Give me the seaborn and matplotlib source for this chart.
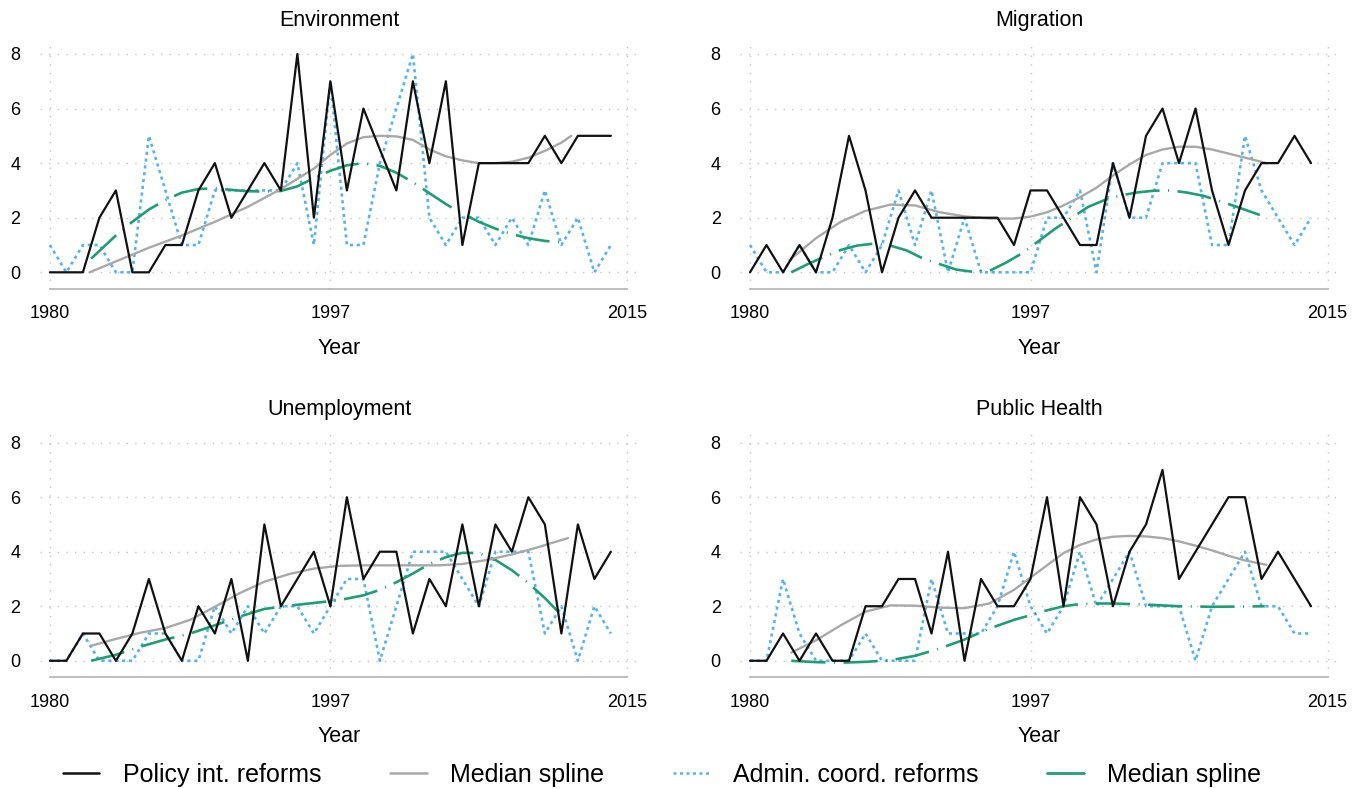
import matplotlib
matplotlib.use("Agg")
import matplotlib.pyplot as plt
from matplotlib.lines import Line2D
import pandas as pd
import seaborn as sns

sns.set_style("white")
plt.rcParams['font.family'] = ['Liberation Sans', 'DejaVu Sans']
plt.rcParams['text.color'] = 'black'
plt.rcParams['xtick.labelcolor'] = 'black'
plt.rcParams['ytick.labelcolor'] = 'black'
plt.rcParams['axes.labelcolor'] = 'black'

years = list(range(1980, 2015))

# --- yearly counts ---
env_policy = [0, 0, 0, 2, 3, 0, 0, 1, 1, 3,
              4, 2, 3, 4, 3, 8, 2, 7, 3, 6,
              4.5, 3, 7, 4, 7, 1, 4, 4, 4, 4,
              5, 4, 5, 5, 5]
env_admin = [1, 0, 1, 1, 0, 0, 5, 3, 1, 1,
             3, 3, 3, 3, 3, 4, 1, 7, 1, 1,
             4, 6, 8, 2, 1, 2, 2, 1, 2, 1,
             3, 1, 2, 0, 1]

mig_policy = [0, 1, 0, 1, 0, 2, 5, 3, 0, 2,
              3, 2, 2, 2, 2, 2, 1, 3, 3, 2,
              1, 1, 4, 2, 5, 6, 4, 6, 3, 1,
              3, 4, 4, 5, 4]
mig_admin = [1, 0, 0, 1, 0, 0, 1, 0, 1, 3,
             1, 3, 0, 2, 0, 0, 0, 0, 2, 2,
             3, 0, 4, 2, 2, 4, 4, 4, 1, 1,
             5, 3, 2, 1, 2]

unemp_policy = [0, 0, 1, 1, 0, 1, 3, 1, 0, 2,
                1, 3, 0, 5, 2, 3, 4, 2, 6, 3,
                4, 4, 1, 3, 2, 5, 2, 5, 4, 6,
                5, 1, 5, 3, 4]
unemp_admin = [0, 0, 1, 0, 0, 0, 1, 1, 0, 0,
               2, 1, 2, 1, 2, 2, 1, 2, 3, 3,
               0, 2, 4, 4, 4, 3, 2, 4, 4, 4,
               1, 2, 0, 2, 1]

ph_policy = [0, 0, 1, 0, 1, 0, 0, 2, 2, 3,
             3, 1, 4, 0, 3, 2, 2, 3, 6, 2,
             6, 5, 2, 4, 5, 7, 3, 4, 5, 6,
             6, 3, 4, 3, 2]
ph_admin = [0, 0, 3, 1, 0, 0, 0, 1, 0, 0,
            0, 3, 1, 1, 1, 2, 4, 2, 1, 2,
            4, 2, 3, 4, 2, 2, 2, 0, 2, 3,
            4, 2, 2, 1, 1]

# --- median splines ---
env_spl_pol_x = [1982.4, 1984, 1986, 1988, 1990, 1992, 1994, 1996, 1997, 1998, 1999, 2000,
                 2001, 2002, 2003, 2004, 2005, 2006, 2007, 2008, 2009, 2010, 2011, 2011.6]
env_spl_pol = [0, 0.4, 0.9, 1.35, 1.85, 2.4, 3.05, 3.8, 4.3, 4.72, 4.95, 5.0,
               4.98, 4.85, 4.5, 4.25, 4.1, 4.0, 4.0, 4.05, 4.2, 4.45, 4.75, 5.0]
env_spl_adm_x = [1982.5, 1984, 1985, 1986, 1987, 1988, 1989, 1990, 1991, 1992, 1993, 1994, 1995,
                 1996, 1997, 1998, 1999, 2000, 2001, 2002, 2003, 2004, 2005, 2006, 2007, 2008,
                 2009, 2010, 2011]
env_spl_adm = [0.5, 1.35, 1.85, 2.3, 2.65, 2.92, 3.05, 3.08, 3.02, 2.97, 2.96, 2.98, 3.15,
               3.45, 3.72, 3.92, 4.0, 3.9, 3.65, 3.3, 2.9, 2.5, 2.15, 1.85, 1.6, 1.4,
               1.25, 1.15, 1.1]

mig_spl_pol_x = [1982.4, 1984, 1985.5, 1987, 1988.5, 1990, 1991.5, 1993, 1994.5, 1996, 1997, 1998,
                 1999, 2000, 2001, 2002, 2003, 2004, 2005, 2006, 2007, 2008, 2009, 2010, 2011.3]
mig_spl_pol = [0.45, 1.25, 1.85, 2.25, 2.48, 2.45, 2.2, 2.05, 1.97, 1.97, 2.04, 2.2,
               2.45, 2.75, 3.1, 3.55, 3.95, 4.3, 4.5, 4.6, 4.6, 4.5, 4.35, 4.2, 4.0]
mig_spl_adm_x = [1982.5, 1983.5, 1984.5, 1985.5, 1986.5, 1987.5, 1988.5, 1989.5, 1990.5, 1991.5,
                 1992.5, 1993.5, 1994.5, 1995.5, 1996.5, 1997.5, 1998.5, 1999.5, 2000.5, 2001.5,
                 2002.5, 2003.5, 2004.5, 2005.5, 2006.5, 2007.5, 2008.5, 2009.5, 2010.9]
mig_spl_adm = [0.0, 0.3, 0.57, 0.82, 0.98, 1.05, 0.98, 0.8, 0.5, 0.3,
               0.1, 0.02, 0.05, 0.35, 0.7, 1.15, 1.6, 2.0, 2.4, 2.65,
               2.82, 2.93, 2.99, 3.0, 2.92, 2.8, 2.6, 2.4, 2.1]

unemp_spl_pol_x = [1982.5, 1984, 1985.5, 1987, 1988.5, 1990, 1991.5, 1993, 1994.5, 1996, 1997.5,
                   1999, 2000.5, 2002, 2003.5, 2005, 2006.5, 2008, 2009.5, 2011.4]
unemp_spl_pol = [0.55, 0.8, 1.03, 1.2, 1.5, 1.98, 2.48, 2.9, 3.18, 3.38, 3.48,
                 3.5, 3.5, 3.5, 3.5, 3.55, 3.7, 3.9, 4.15, 4.5]
unemp_spl_adm_x = [1982.5, 1984, 1985.5, 1987, 1988.5, 1990, 1991.5, 1993, 1994.5, 1996, 1997.5,
                   1999, 2000, 2001, 2002, 2003, 2004, 2005, 2006, 2007, 2008, 2009, 2010, 2011.2]
unemp_spl_adm = [0.0, 0.22, 0.52, 0.78, 1.0, 1.3, 1.62, 1.9, 2.02, 2.12, 2.22,
                 2.4, 2.6, 2.88, 3.2, 3.55, 3.8, 3.96, 3.95, 3.7, 3.32, 2.85, 2.3, 1.55]

ph_spl_pol_x = [1982.5, 1984, 1985.5, 1987, 1988.5, 1990, 1991.5, 1993, 1994.5, 1996, 1997, 1998,
                1999, 2000, 2001, 2002, 2003, 2004, 2005, 2006, 2007, 2008, 2009, 2010, 2011.3]
ph_spl_pol = [0.3, 0.75, 1.3, 1.8, 2.03, 2.02, 1.95, 1.93, 2.1, 2.6, 3.05, 3.5,
              3.95, 4.25, 4.45, 4.55, 4.58, 4.56, 4.5, 4.38, 4.22, 4.05, 3.85, 3.68, 3.52]
ph_spl_adm_x = [1982.5, 1984, 1985.5, 1987, 1988.5, 1990, 1991.5, 1993, 1994.5, 1996, 1997,
                1998, 1999, 2000, 2001, 2002, 2004, 2006, 2008, 2010, 2011.2]
ph_spl_adm = [0.0, -0.05, -0.07, -0.04, 0.02, 0.18, 0.45, 0.78, 1.18, 1.5, 1.67,
              1.85, 2.0, 2.08, 2.1, 2.1, 2.06, 2.0, 1.98, 1.99, 2.0]

titles = ["Environment", "Migration", "Unemployment", "Public Health"]
x_ticks = [1980, 1997, 2015]
y_ticks = [0, 2, 4, 6, 8]
legend_labels = ["Policy int. reforms", "Median spline", "Admin. coord. reforms", "Median spline"]

BLACK = "#111111"
GREY = "#a8a8a8"
BLUE = "#56b4e9"
GREEN = "#1f9e74"
DOTS = (0, (1.2, 1.4))
LONGDASH_DOT = (0, (13, 3.2, 0.4, 3.2))

panels = [
    (env_policy, env_admin, env_spl_pol_x, env_spl_pol, env_spl_adm_x, env_spl_adm),
    (mig_policy, mig_admin, mig_spl_pol_x, mig_spl_pol, mig_spl_adm_x, mig_spl_adm),
    (unemp_policy, unemp_admin, unemp_spl_pol_x, unemp_spl_pol, unemp_spl_adm_x, unemp_spl_adm),
    (ph_policy, ph_admin, ph_spl_pol_x, ph_spl_pol, ph_spl_adm_x, ph_spl_adm),
]

fig = plt.figure(figsize=(13.6, 7.89), dpi=100)
positions = [
    [0.0294, 0.6341, 0.4404, 0.3131],
    [0.5442, 0.6341, 0.4404, 0.3131],
    [0.0294, 0.1418, 0.4404, 0.3127],
    [0.5442, 0.1418, 0.4404, 0.3127],
]

for pos, title, (pol, adm, spx, sp, sax, sa) in zip(positions, titles, panels):
    ax = fig.add_axes(pos)
    yearly = pd.DataFrame({"Year": years, "policy": pol, "admin": adm})
    spl_pol = pd.DataFrame({"Year": spx, "value": sp})
    spl_adm = pd.DataFrame({"Year": sax, "value": sa})

    sns.lineplot(data=yearly, x="Year", y="admin", ax=ax, color=BLUE,
                 linewidth=1.9, linestyle=DOTS, errorbar=None)
    sns.lineplot(data=spl_adm, x="Year", y="value", ax=ax, color=GREEN,
                 linewidth=1.9, linestyle=LONGDASH_DOT, errorbar=None)
    sns.lineplot(data=spl_pol, x="Year", y="value", ax=ax, color=GREY,
                 linewidth=1.7, errorbar=None)
    sns.lineplot(data=yearly, x="Year", y="policy", ax=ax, color=BLACK,
                 linewidth=1.6, errorbar=None)

    ax.set_xlim(1979.4, 2015.7)
    ax.set_ylim(-0.6, 8.45)
    ax.set_xticks(x_ticks)
    ax.set_yticks(y_ticks)
    ax.grid(True, color="#c4c4c4", linestyle=(0, (1, 5.2)), linewidth=1.0)
    ax.set_axisbelow(True)
    for side in ["top", "right", "left"]:
        ax.spines[side].set_visible(False)
    ax.spines["bottom"].set_color("#b4b4b4")
    ax.spines["bottom"].set_linewidth(1.2)
    ax.spines["bottom"].set_bounds(1980, 2015)
    ax.tick_params(axis="x", length=5, width=1.0, color="#b4b4b4", pad=7, labelsize=13)
    ax.tick_params(axis="y", length=0, pad=14, labelsize=13)
    ax.set_title(title, fontsize=15.5, pad=11)
    ax.set_xlabel("Year", fontsize=15.5, labelpad=11)
    ax.set_ylabel("")

handles = [
    Line2D([], [], color=BLACK, linewidth=1.8),
    Line2D([], [], color=GREY, linewidth=1.8),
    Line2D([], [], color=BLUE, linewidth=1.8, linestyle=DOTS),
    Line2D([], [], color=GREEN, linewidth=2.0),
]
fig.legend(handles, legend_labels, loc="center", bbox_to_anchor=(0.487, 1 - 775 / 789),
           ncol=4, frameon=False, fontsize=18, handlelength=1.45,
           handletextpad=0.95, columnspacing=2.75)

fig.savefig("out.png", dpi=100)
